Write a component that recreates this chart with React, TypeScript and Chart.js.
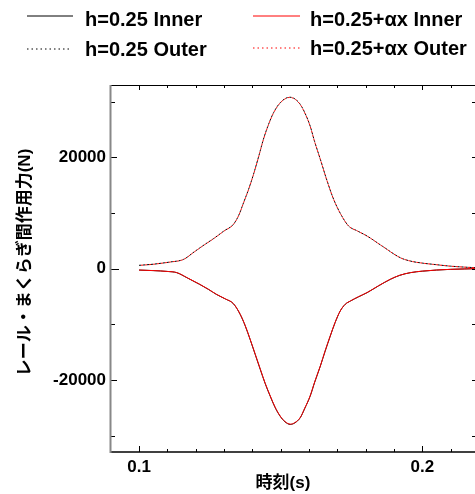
import React, { useEffect, useRef } from 'react';
import { Chart, registerables } from 'chart.js';

Chart.register(...registerables);

// ---- labels ----
const SERIES_LABELS = ['h=0.25 Inner', 'h=0.25+αx Inner', 'h=0.25 Outer', 'h=0.25+αx Outer'];
const X_TITLE = '時刻(s)';
const Y_TITLE = 'レール・まくらぎ間作用力(N)';

// ---- ticks ----
const X_TICK_LABELS = [0.1, 0.2];
const X_MINOR_TICKS = [0.1, 0.11, 0.12, 0.13, 0.14, 0.15, 0.16, 0.17, 0.18, 0.19, 0.2, 0.21];
const Y_TICK_LABELS = [-20000, 0, 20000];
const Y_MINOR_TICKS = [-30000, -10000, 10000, 30000];
const X_MIN = 0.0901;
const X_MAX = 0.2193;
const Y_MIN = -32930;
const Y_MAX = 32990;

// ---- data: Inner (negative) ----
const T_INNER = [
  0.100, 0.105, 0.110, 0.1133, 0.117, 0.1214, 0.1245, 0.1273, 0.1305, 0.1333,
  0.1357, 0.1375, 0.1392, 0.141, 0.1428, 0.1445, 0.1463, 0.148, 0.1498, 0.1515,
  0.1534, 0.155, 0.1569, 0.1585, 0.1604, 0.162, 0.164, 0.1657, 0.1675, 0.1692,
  0.171, 0.1728, 0.1746, 0.1775, 0.1805, 0.1845, 0.1887, 0.192, 0.1958, 0.200,
  0.205, 0.2099, 0.215, 0.2187, 0.222,
];
const INNER_H025 = [
  -250, -350, -500, -720, -1650, -2820, -3720, -4620, -5450, -6290,
  -8210, -10300, -12700, -15400, -18100, -20600, -22900, -24900, -26500, -27500,
  -27980, -27700, -26780, -25100, -22900, -20400, -17500, -14800, -12110, -9700,
  -7620, -6400, -5820, -5050, -4310, -3100, -1920, -1200, -720, -450,
  -250, -126, -50, 0, 20,
];
const INNER_AX = [
  -250, -340, -500, -700, -1630, -2800, -3700, -4600, -5430, -6270,
  -8180, -10250, -12650, -15350, -18050, -20550, -22850, -24850, -26450, -27450,
  -27930, -27650, -26740, -25060, -22860, -20360, -17460, -14760, -12070, -9670,
  -7600, -6380, -5800, -5030, -4290, -3080, -1900, -1190, -710, -440,
  -245, -120, -45, 0, 20,
];

// ---- data: Outer (positive) ----
const T_OUTER = [
  0.100, 0.105, 0.1074, 0.111, 0.1157, 0.1195, 0.123, 0.1263, 0.130, 0.1333,
  0.1352, 0.1369, 0.1387, 0.1404, 0.1422, 0.1439, 0.1457, 0.1475, 0.150, 0.1532,
  0.155, 0.1569, 0.1587, 0.1604, 0.162, 0.164, 0.1663, 0.1687, 0.1713, 0.174,
  0.177, 0.1805, 0.186, 0.1922, 0.1958, 0.200, 0.204, 0.210, 0.2187, 0.222,
];
const OUTER_H025 = [
  600, 800, 950, 1200, 1670, 3030, 4280, 5400, 6780, 7960,
  9600, 11860, 14300, 16945, 20100, 23235, 25900, 28030, 29900, 30800,
  30500, 29520, 27800, 25625, 22800, 19640, 15900, 12450, 9700, 7655,
  6800, 5860, 4000, 1977, 1366, 1000, 770, 450, 180, 120,
];
const OUTER_AX = [
  590, 790, 940, 1190, 1660, 3010, 4260, 5380, 6760, 7940,
  9580, 11830, 14270, 16910, 20060, 23190, 25860, 27990, 29860, 30760,
  30460, 29480, 27760, 25590, 22770, 19610, 15880, 12430, 9690, 7640,
  6790, 5850, 3990, 1970, 1360, 995, 765, 445, 178, 118,
];

const FONT_FAMILY = '"Liberation Sans", Arial, "Noto Sans CJK JP", sans-serif';

const pts = (xs: number[], ys: number[]) => xs.map((x, i) => ({ x, y: ys[i] }));

const decorPlugin = {
  id: 'decor',
  afterDraw(chart: any) {
    const { ctx, chartArea: a, scales } = chart;
    const xs = scales.x;
    const ys = scales.y;
    ctx.save();

    // tick marks (inward)
    ctx.strokeStyle = '#000';
    ctx.lineWidth = 1;
    ctx.setLineDash([]);
    ctx.beginPath();
    for (const v of X_MINOR_TICKS) {
      const major = X_TICK_LABELS.some((m) => Math.abs(m - v) < 1e-9);
      const px = Math.round(xs.getPixelForValue(v)) + 0.5;
      const lenB = major ? 6 : 3;
      const lenT = major ? 5 : 3;
      ctx.moveTo(px, a.bottom);
      ctx.lineTo(px, a.bottom - lenB);
      ctx.moveTo(px, a.top);
      ctx.lineTo(px, a.top + lenT);
    }
    const yAll = [...Y_TICK_LABELS, ...Y_MINOR_TICKS];
    for (const v of yAll) {
      const major = Y_TICK_LABELS.includes(v);
      const py = Math.round(ys.getPixelForValue(v)) + 0.5;
      const len = v === 0 ? 8 : major ? 6 : 4;
      ctx.moveTo(a.left, py);
      ctx.lineTo(a.left + len, py);
      ctx.moveTo(a.right, py);
      ctx.lineTo(a.right - 5, py);
    }
    ctx.stroke();

    // frame
    ctx.beginPath();
    ctx.strokeStyle = '#000';
    ctx.lineWidth = 1;
    ctx.moveTo(a.left, a.top + 0.5);
    ctx.lineTo(a.right, a.top + 0.5);
    ctx.moveTo(a.right - 0.5, a.top);
    ctx.lineTo(a.right - 0.5, a.bottom);
    ctx.stroke();
    ctx.beginPath();
    ctx.lineWidth = 1.5;
    ctx.moveTo(a.left, a.bottom);
    ctx.lineTo(a.right, a.bottom);
    ctx.stroke();
    ctx.beginPath();
    ctx.strokeStyle = '#888';
    ctx.lineWidth = 2;
    ctx.moveTo(a.left - 0.5, a.top);
    ctx.lineTo(a.left - 0.5, a.bottom + 1);
    ctx.stroke();

    // legend
    const items = [
      { label: SERIES_LABELS[0], color: '#000', dash: [] as number[], x1: 27, x2: 73, ly: 16, tx: 85, ty: 26 },
      { label: SERIES_LABELS[1], color: '#ff0000', dash: [] as number[], x1: 253, x2: 300, ly: 16, tx: 310, ty: 26 },
      { label: SERIES_LABELS[2], color: '#000', dash: [1.5, 3], x1: 27, x2: 72, ly: 49, tx: 85, ty: 55.5 },
      { label: SERIES_LABELS[3], color: '#ff0000', dash: [1.5, 3], x1: 253, x2: 300, ly: 48, tx: 310, ty: 54.5 },
    ];
    ctx.font = `bold 20px ${FONT_FAMILY}`;
    ctx.textAlign = 'left';
    ctx.textBaseline = 'alphabetic';
    for (const it of items) {
      ctx.beginPath();
      ctx.strokeStyle = it.color;
      ctx.lineWidth = 1;
      ctx.setLineDash(it.dash);
      ctx.moveTo(it.x1, it.ly);
      ctx.lineTo(it.x2, it.ly);
      ctx.stroke();
      ctx.setLineDash([]);
      ctx.fillStyle = '#000';
      ctx.fillText(it.label, it.tx, it.ty);
    }

    // axis titles
    ctx.font = `bold 17px ${FONT_FAMILY}`;
    ctx.fillStyle = '#000';
    ctx.textAlign = 'center';
    ctx.textBaseline = 'middle';
    ctx.fillText(X_TITLE, 283, 483);
    ctx.translate(25, 262.5);
    ctx.rotate(-Math.PI / 2);
    ctx.fillText(Y_TITLE, 0, 0);
    ctx.restore();
  },
};

export default function App() {
  const ref = useRef<HTMLCanvasElement>(null);
  useEffect(() => {
    const tickFont = { family: FONT_FAMILY, size: 17, weight: 'bold' as const };
    const chart = new Chart(ref.current as HTMLCanvasElement, {
      type: 'line',
      data: {
        datasets: [
          {
            label: SERIES_LABELS[1],
            data: pts(T_INNER, INNER_AX),
            borderColor: '#ff0000',
            borderWidth: 1,
            pointRadius: 0,
            cubicInterpolationMode: 'monotone',
          },
          {
            label: SERIES_LABELS[3],
            data: pts(T_OUTER, OUTER_AX),
            borderColor: '#ff0000',
            borderWidth: 1,
            borderDash: [2, 2],
            borderDashOffset: 2,
            pointRadius: 0,
            cubicInterpolationMode: 'monotone',
          },
          {
            label: SERIES_LABELS[0],
            data: pts(T_INNER, INNER_H025),
            borderColor: '#000',
            borderWidth: 1,
            pointRadius: 0,
            cubicInterpolationMode: 'monotone',
          },
          {
            label: SERIES_LABELS[2],
            data: pts(T_OUTER, OUTER_H025),
            borderColor: '#000',
            borderWidth: 1,
            borderDash: [2, 2],
            pointRadius: 0,
            cubicInterpolationMode: 'monotone',
          },
        ],
      },
      options: {
        animation: false,
        responsive: false,
        devicePixelRatio: 1,
        layout: { padding: { top: 85, right: 3, left: 0, bottom: 0 } },
        plugins: { legend: { display: false }, tooltip: { enabled: false } },
        scales: {
          x: {
            type: 'linear',
            position: 'bottom',
            min: X_MIN,
            max: X_MAX,
            grid: { display: false, drawTicks: false },
            border: { display: false },
            ticks: {
              padding: 5,
              color: '#000',
              font: tickFont,
              autoSkip: false,
              maxRotation: 0,
              callback: (v: any) => Number(v).toFixed(1),
            },
            afterBuildTicks: (s: any) => {
              s.ticks = X_TICK_LABELS.map((value) => ({ value }));
            },
            afterFit: (s: any) => {
              s.height = 42;
            },
          },
          y: {
            type: 'linear',
            min: Y_MIN,
            max: Y_MAX,
            grid: { display: false, drawTicks: false },
            border: { display: false },
            ticks: {
              padding: 5,
              color: '#000',
              font: tickFont,
              autoSkip: false,
              callback: (v: any) => String(v),
            },
            afterBuildTicks: (s: any) => {
              s.ticks = Y_TICK_LABELS.map((value) => ({ value }));
            },
            afterFit: (s: any) => {
              s.width = 111;
            },
          },
        },
      },
      plugins: [decorPlugin],
    } as any);
    return () => chart.destroy();
  }, []);

  return (
    <div
      style={{
        position: 'fixed',
        left: 0,
        top: 0,
        width: 475,
        height: 494,
        overflow: 'hidden',
        background: '#fff',
      }}
    >
      <canvas ref={ref} width={480} height={494} style={{ display: 'block', width: 480, height: 494 }} />
    </div>
  );
}
